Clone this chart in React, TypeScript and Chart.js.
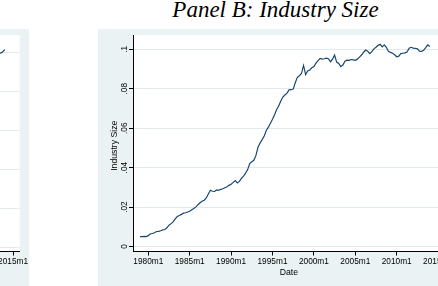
import React, { useEffect, useRef } from "react";
import { Chart, registerables } from "chart.js";

Chart.register(...registerables);

// Dates are counted in months from 1980m1 (= 0).
const xTickValues = [0, 60, 120, 180, 240, 300, 360, 420];
const xTickLabels = ["1980m1", "1985m1", "1990m1", "1995m1", "2000m1", "2005m1", "2010m1", "2015m1"];

const yTickValues = [0, 0.02, 0.04, 0.06, 0.08, 0.1];
const yTickLabels = ["0", ".02", ".04", ".06", ".08", ".1"];

// Industry size, quarterly observations from 1979m1 to 2014m1.
const sizeStartMonth = -12;
const sizeStepMonths = 3;
const industrySize = [
  0.0050, 0.0050, 0.0051, 0.0050, // 1979
  0.0055, 0.0064, 0.0066, 0.0070, // 1980
  0.0076, 0.0077, 0.0080, 0.0084, // 1981
  0.0086, 0.0095, 0.0108, 0.0116, // 1982
  0.0125, 0.0140, 0.0152, 0.0157, // 1983
  0.0163, 0.0169, 0.0171, 0.0175, // 1984
  0.0179, 0.0186, 0.0193, 0.0201, // 1985
  0.0212, 0.0222, 0.0229, 0.0235, // 1986
  0.0246, 0.0266, 0.0285, 0.0280, // 1987
  0.0279, 0.0287, 0.0285, 0.0290, // 1988
  0.0293, 0.0298, 0.0303, 0.0310, // 1989
  0.0316, 0.0325, 0.0334, 0.0322, // 1990
  0.0330, 0.0345, 0.0357, 0.0372, // 1991
  0.0390, 0.0420, 0.0430, 0.0437, // 1992
  0.0462, 0.0503, 0.0525, 0.0542, // 1993
  0.0560, 0.0588, 0.0605, 0.0625, // 1994
  0.0645, 0.0668, 0.0695, 0.0712, // 1995
  0.0738, 0.0758, 0.0768, 0.0778, // 1996
  0.0794, 0.0795, 0.0798, 0.0830, // 1997
  0.0858, 0.0866, 0.0877, 0.0918, // 1998
  0.0872, 0.0890, 0.0895, 0.0906, // 1999
  0.0912, 0.0930, 0.0942, 0.0954, // 2000
  0.0950, 0.0952, 0.0955, 0.0952, // 2001
  0.0937, 0.0950, 0.0970, 0.0935, // 2002
  0.0928, 0.0912, 0.0920, 0.0940, // 2003
  0.0945, 0.0944, 0.0948, 0.0946, // 2004
  0.0944, 0.0950, 0.0960, 0.0971, // 2005
  0.0985, 0.0996, 0.0990, 0.0978, // 2006
  0.0988, 0.1002, 0.1010, 0.1020, // 2007
  0.1025, 0.1012, 0.1022, 0.1010, // 2008
  0.0990, 0.0984, 0.0980, 0.0972, // 2009
  0.0962, 0.0965, 0.0978, 0.0980, // 2010
  0.0982, 0.0986, 0.1005, 0.1010, // 2011
  0.1006, 0.1005, 0.1002, 0.0990, // 2012
  0.0989, 0.0995, 0.1008, 0.1022, // 2013
  0.1014, // 2014
];

// Panel A (only its right edge falls inside the page): grid levels and the series tail.
const panelAGridValues = [0, 1, 2, 3, 4, 5];
const panelAMonths = [396, 400, 404, 408];
const panelAValues = [4.93, 4.96, 4.99, 5.06];

const regionColor = "#EAF2F3";
const gridColor = "#E2EAEC";
const lineColor = "#1A476F";
const sansFont = '"Liberation Sans", Arial, Helvetica, sans-serif';

const PANEL_W = 356;
const PANEL_H = 257;

type FrameCfg = {
  yLabels?: string[];
  yValues: number[];
  yTitle?: string;
  xTitle: string;
};

// Stata-like frame: tinted graph region, white plot region, axis texts.
function makeFrame(cfg: FrameCfg) {
  return {
    id: "stataFrame",
    beforeDraw(chart: any) {
      const { ctx, chartArea: a, width, height } = chart;
      ctx.save();
      ctx.fillStyle = regionColor;
      ctx.fillRect(0, 0, width, height);
      ctx.fillStyle = "#ffffff";
      ctx.fillRect(a.left, a.top, a.right - a.left, a.bottom - a.top);
      ctx.restore();
    },
    afterDraw(chart: any) {
      const { ctx, chartArea: a, scales } = chart;
      const xs = scales.x;
      const ys = scales.y;
      ctx.save();
      ctx.fillStyle = "#000000";
      ctx.textAlign = "center";
      ctx.textBaseline = "alphabetic";
      ctx.font = `8.3px ${sansFont}`;
      xTickValues.forEach((v, i) => {
        ctx.fillText(xTickLabels[i], xs.getPixelForValue(v), a.bottom + 12.5);
      });
      if (cfg.yLabels) {
        cfg.yValues.forEach((v, i) => {
          ctx.save();
          ctx.translate(a.left - 6.5, ys.getPixelForValue(v));
          ctx.rotate(-Math.PI / 2);
          ctx.fillText(cfg.yLabels![i], 0, 0);
          ctx.restore();
        });
      }
      ctx.font = `8.7px ${sansFont}`;
      ctx.fillText(cfg.xTitle, (a.left + a.right) / 2, a.bottom + 23.5);
      if (cfg.yTitle) {
        ctx.save();
        ctx.translate(a.left - 16.5, (a.top + a.bottom) / 2 + 2.5);
        ctx.rotate(-Math.PI / 2);
        ctx.fillText(cfg.yTitle, 0, 0);
        ctx.restore();
      }
      ctx.restore();
    },
  };
}

function buildConfig(
  points: { x: number; y: number }[],
  yMin: number,
  yMax: number,
  yTicks: number[],
  frame: FrameCfg
): any {
  return {
    type: "line",
    data: {
      datasets: [
        {
          data: points,
          borderColor: lineColor,
          borderWidth: 1.2,
          pointRadius: 0,
          tension: 0,
          fill: false,
        },
      ],
    },
    options: {
      responsive: false,
      animation: false,
      events: [],
      layout: { autoPadding: false, padding: { left: 0, top: 6, right: 9.3, bottom: 0 } },
      plugins: { legend: { display: false }, tooltip: { enabled: false } },
      scales: {
        x: {
          type: "linear",
          min: -22.17,
          max: 429.56,
          afterBuildTicks: (s: any) => {
            s.ticks = xTickValues.map((v) => ({ value: v }));
          },
          afterFit: (s: any) => {
            s.height = 34.5;
          },
          ticks: { display: false },
          grid: { drawOnChartArea: false, drawTicks: true, tickLength: 4, tickColor: "#000000", tickWidth: 1 },
          border: { display: true, color: "#000000", width: 1 },
        },
        y: {
          type: "linear",
          min: yMin,
          max: yMax,
          afterBuildTicks: (s: any) => {
            s.ticks = yTicks.map((v) => ({ value: v }));
          },
          afterFit: (s: any) => {
            s.width = 35;
          },
          ticks: { display: false },
          grid: { color: gridColor, lineWidth: 1, drawTicks: true, tickLength: 4, tickColor: "#000000", tickWidth: 1 },
          border: { display: true, color: "#000000", width: 1 },
        },
      },
    },
    plugins: [makeFrame(frame)],
  };
}

export default function App() {
  const leftRef = useRef<HTMLCanvasElement>(null);
  const rightRef = useRef<HTMLCanvasElement>(null);

  useEffect(() => {
    const sizePoints = industrySize.map((v, i) => ({ x: sizeStartMonth + i * sizeStepMonths, y: v }));
    const tailPoints = panelAValues.map((v, i) => ({ x: panelAMonths[i], y: v }));

    const left = new Chart(
      leftRef.current!,
      buildConfig(tailPoints, -0.115, 5.436, panelAGridValues, { yValues: panelAGridValues, xTitle: "Date" })
    );
    const right = new Chart(
      rightRef.current!,
      buildConfig(sizePoints, -0.00253, 0.10724, yTickValues, {
        yLabels: yTickLabels,
        yValues: yTickValues,
        yTitle: "Industry Size",
        xTitle: "Date",
      })
    );
    return () => {
      left.destroy();
      right.destroy();
    };
  }, []);

  return (
    <div
      style={{
        position: "fixed",
        left: 0,
        top: 0,
        width: 438,
        height: 286,
        overflow: "hidden",
        background: "#ffffff",
      }}
    >
      <canvas
        ref={leftRef}
        width={PANEL_W}
        height={PANEL_H}
        style={{ position: "absolute", left: -327, top: 29, width: PANEL_W, height: PANEL_H }}
      />
      <div
        style={{
          position: "absolute",
          left: 98,
          top: -2,
          width: 355,
          textAlign: "center",
          font: 'italic 23px/23px "Liberation Serif", "Times New Roman", serif',
          color: "#000000",
          whiteSpace: "nowrap",
        }}
      >
        Panel B: Industry Size
      </div>
      <canvas
        ref={rightRef}
        width={PANEL_W}
        height={PANEL_H}
        style={{ position: "absolute", left: 98, top: 29, width: PANEL_W, height: PANEL_H }}
      />
    </div>
  );
}
